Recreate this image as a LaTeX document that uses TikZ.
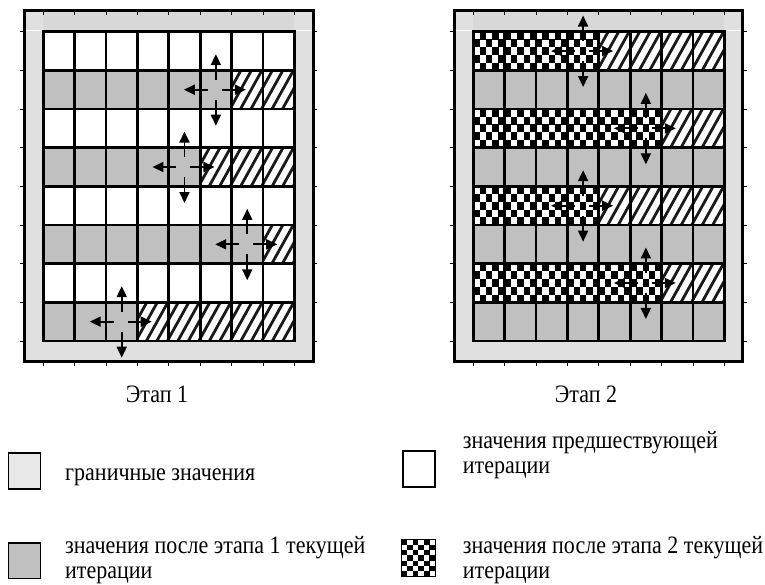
\documentclass[tikz,border=0pt]{standalone}
\usepackage{fontspec}
\setmainfont{Liberation Serif}[FakeStretch=0.88]
\usetikzlibrary{arrows.meta}
\definecolor{cellgray}{HTML}{C0C0C0}
\definecolor{framegray}{HTML}{E0E0E0}
\definecolor{topgray}{HTML}{D8D8D8}
\definecolor{legendlight}{HTML}{E8E8E8}
\newcommand{\Wc}{31.375}
\newcommand{\Hc}{38.66}
\newcommand{\Yo}{31.7}
% fill cells of one row: X0,row,c1,c2,colour
\newcommand{\rowfill}[5]{\fill[#5] ({#1+(#3-1)*\Wc},{\Yo+(#2-1)*\Hc}) rectangle ({#1+#4*\Wc},{\Yo+#2*\Hc});}
% hatched cells: X0,row,c1,c2
\newcommand{\hatchcells}[4]{\begin{scope}
 \clip ({#1+(#3-1)*\Wc},{\Yo+(#2-1)*\Hc}) rectangle ({#1+#4*\Wc},{\Yo+#2*\Hc});
 \foreach \k in {0,...,20}{\draw[hatchline] ({#1+(#3-1)*\Wc+\k*10.5-23.7},{\Yo+#2*\Hc+2}) -- ++(23.7,-42.66);}
 \end{scope}}
% checkered cells: X0,row,c1,c2
\newcommand{\checkcells}[4]{%
 \pgfmathtruncatemacro{\nchk}{5*(#4-#3+1)-1}%
 \foreach \i in {0,...,\nchk}{\foreach \j in {0,...,4}{%
   \pgfmathtruncatemacro{\cpar}{mod(\i+\j,2)}%
   \ifnum\cpar=1 \fill[black] ({#1+(#3-1)*\Wc+\i*\Wc/5},{\Yo+(#2-1)*\Hc+\j*\Hc/5}) rectangle ++({\Wc/5+0.1},{\Hc/5+0.1});\fi
 }}}
% cross of four arrows: X0,row,col
\newcommand{\crossarrows}[3]{%
 \pgfmathsetmacro{\cx}{#1+(#3-0.5)*\Wc}%
 \pgfmathsetmacro{\cy}{\Yo+(#2-0.5)*\Hc}%
 \draw[arr] ({\cx-8},{\cy}) -- ({\cx-32},{\cy});
 \draw[arr] ({\cx+6},{\cy}) -- ({\cx+30},{\cy});
 \draw[arr] ({\cx},{\cy-10}) -- ({\cx},{\cy-35.5});
 \draw[arr] ({\cx},{\cy+10}) -- ({\cx},{\cy+36});}
% frame of a panel: outer left x, grid X0
\newcommand{\panelframe}[2]{%
 \fill[framegray] (#1,10.7) rectangle ({#1+288.7},361.7);
 \fill[topgray] (#2,12) rectangle ({#2+8*\Wc},{\Yo});
 \fill[white] ({#1+1.5},{\Yo-2.2}) rectangle (#2,{\Yo-0.6});
 \fill[white] ({#2+8*\Wc},{\Yo-2.2}) rectangle ({#1+287.2},{\Yo-0.6});
 \fill[white] (#2,{\Yo}) rectangle ({#2+8*\Wc},{\Yo+8*\Hc});}
\newcommand{\panelgrid}[2]{%
 \foreach \k in {0,...,8}{
  \draw[gridline] ({#2+\k*\Wc},{\Yo}) -- ({#2+\k*\Wc},{\Yo+8*\Hc});
  \draw[gridline] (#2,{\Yo+\k*\Hc}) -- ({#2+8*\Wc},{\Yo+\k*\Hc});
  \draw[tickmark] ({#2+\k*\Wc},12.1) -- ++(0,2.8);
  \draw[tickmark] ({#2+\k*\Wc},363.2) -- ++(0,2.6);
  \draw[tickmark] ({#1+290.2},{\Yo+\k*\Hc}) -- ++(2.6,0);
  \draw[tickmark] ({#1-1.5},{\Yo+\k*\Hc}) -- ++(-2.6,0);}
 \draw[line width=3pt] (#1,10.7) rectangle ({#1+288.7},361.7);}
\begin{document}
\begin{tikzpicture}[x=1pt,y=-1pt,
  hatchline/.style={line width=2.8pt, black!90},
  gridline/.style={line width=2.7pt, black, line cap=rect},
  tickmark/.style={line width=0.8pt, black},
  arr/.style={line width=1.8pt, black, -{Triangle[length=11pt,width=10pt]}},
  lbl/.style={inner sep=0pt, font=\fontsize{25}{25}\selectfont},
  legbox/.style={line width=1.6pt, draw=black}]
\path[use as bounding box] (0,0) rectangle (765,584);
% ---------- stage 1 ----------
\panelframe{24.3}{43.3}
\rowfill{43.3}{2}{1}{6}{cellgray}
\hatchcells{43.3}{2}{7}{8}
\rowfill{43.3}{4}{1}{5}{cellgray}
\hatchcells{43.3}{4}{6}{8}
\rowfill{43.3}{6}{1}{7}{cellgray}
\hatchcells{43.3}{6}{8}{8}
\rowfill{43.3}{8}{1}{3}{cellgray}
\hatchcells{43.3}{8}{4}{8}
\panelgrid{24.3}{43.3}
\crossarrows{43.3}{2}{6}
\crossarrows{43.3}{4}{5}
\crossarrows{43.3}{6}{7}
\crossarrows{43.3}{8}{3}
% ---------- stage 2 ----------
\panelframe{454}{473.3}
\foreach \r in {2,4,6,8}{\rowfill{473.3}{\r}{1}{8}{cellgray}}
\checkcells{473.3}{1}{1}{4}
\hatchcells{473.3}{1}{5}{8}
\checkcells{473.3}{3}{1}{6}
\hatchcells{473.3}{3}{7}{8}
\checkcells{473.3}{5}{1}{4}
\hatchcells{473.3}{5}{5}{8}
\checkcells{473.3}{7}{1}{6}
\hatchcells{473.3}{7}{7}{8}
\panelgrid{454}{473.3}
\crossarrows{473.3}{1}{4}
\crossarrows{473.3}{3}{6}
\crossarrows{473.3}{5}{4}
\crossarrows{473.3}{7}{6}
% ---------- captions ----------
\node[lbl, anchor=base] (stage1) at (157,402.7) {Этап 1};
\node[lbl, anchor=base] (stage2) at (586,402.7) {Этап 2};
% ---------- legend ----------
\draw[legbox, fill=legendlight] (8.3,452.7) rectangle (40.5,489);
\draw[legbox, fill=cellgray] (8.3,542.7) rectangle (40.5,578.3);
\draw[legbox, fill=white] (402.7,450.7) rectangle (435,486.7);
\begin{scope}
 \fill[white] (401.7,539.3) rectangle (435,576.7);
 \foreach \i in {0,...,5}{\foreach \j in {0,...,6}{%
   \pgfmathtruncatemacro{\cpar}{mod(\i+\j,2)}%
   \ifnum\cpar=0 \fill[black] ({401.7+\i*5.55},{539.3+\j*5.34}) rectangle ++(5.6,5.4);\fi}}
 \draw[line width=1pt] (401.7,539.3) rectangle (435,576.7);
\end{scope}
\node[lbl, anchor=base west] (leg1) at (65,480.7) {граничные значения};
\node[lbl, anchor=base west] (leg2) at (65,553.5) {\vtop{\hbox{значения после этапа 1 текущей}\hbox{итерации}}};
\node[lbl, anchor=base west] (leg3) at (462.7,448.3) {\vtop{\hbox{значения предшествующей}\hbox{итерации}}};
\node[lbl, anchor=base west] (leg4) at (462.7,553) {\vtop{\hbox{значения после этапа 2 текущей}\hbox{итерации}}};
\end{tikzpicture}
\end{document}
